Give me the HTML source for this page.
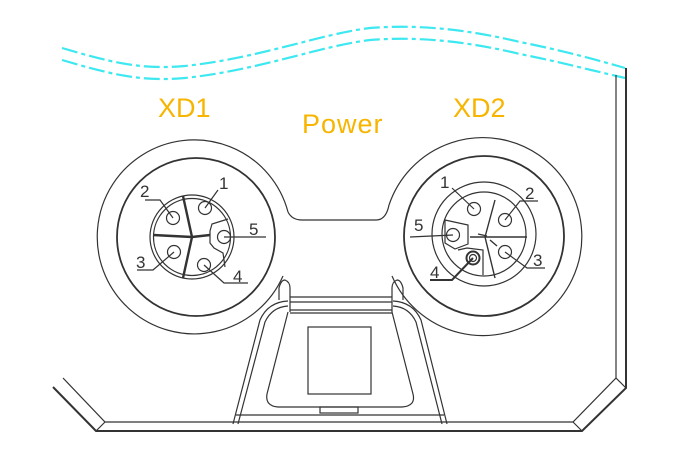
<!DOCTYPE html>
<html><head><meta charset="utf-8"><style>
html,body{margin:0;padding:0;background:#fff;}
svg{display:block;}
text{font-family:"Liberation Sans",sans-serif;}
</style></head><body>
<svg width="697" height="451" viewBox="0 0 697 451" xmlns="http://www.w3.org/2000/svg">
<g fill="none" stroke="#3ee8f0" stroke-width="2.2" stroke-dasharray="16 4 4 4">
<path d="M62,48 C110,62 140,70 185,66 C260,58 320,34 370,28 C420,24 470,30 520,42 C560,50 590,58 625,68"/>
<path d="M62,60 C110,74 140,82 185,78 C260,70 320,46 370,40 C420,36 470,42 520,54 C560,62 590,70 625,78"/>
</g>
<text x="158" y="117" font-size="27" fill="#f7b500">XD1</text>
<text x="302" y="133" font-size="27" fill="#f7b500" letter-spacing="1">Power</text>
<text x="453" y="117" font-size="27" fill="#f7b500">XD2</text>

<g fill="none" stroke="#333" stroke-width="1.2">
<!-- outer shape -->
<path d="M288,212 A97,97 0 1 0 283,276"/>
<path d="M288,212 Q292,220 302,220 L376,220 Q386,220 389,205"/>
<path d="M389,205 A99,99 0 1 1 392,276"/>
<circle cx="196" cy="237" r="79" stroke-width="1.8"/>
<circle cx="484" cy="236" r="80" stroke-width="1.8"/>
<!-- XD1 insert -->
<circle cx="192" cy="237" r="42"/>
<circle cx="192" cy="237" r="38.5"/>
<g stroke-width="2.4">
<line x1="192" y1="237" x2="183" y2="196"/>
<line x1="192" y1="237" x2="153" y2="235"/>
<line x1="192" y1="237" x2="183" y2="278"/>
<line x1="192" y1="237" x2="210" y2="235"/>
</g>
<path d="M228,219 L212,224 L210,231 L210,243 L214,248 L223,253 L225,267"/>
<circle cx="205" cy="208" r="6.5"/><circle cx="173" cy="218" r="6.5"/>
<circle cx="224" cy="237" r="6.5"/><circle cx="174" cy="252" r="6.5"/>
<circle cx="204" cy="265" r="6.5"/>
<!-- XD1 leaders -->
<path d="M218,190 L205,208"/><path d="M145,200 L160,200 L173,218"/>
<path d="M224,237 L266,237"/><path d="M137,270 L153,270 L174,252"/>
<path d="M204,265 L224,283 L248,283"/>
<!-- XD2 insert -->
<circle cx="484" cy="234" r="52"/>
<circle cx="484" cy="234" r="42"/>
<g stroke-width="1.4">
<path d="M485,237 L495,200 M485,237 L527,237 M485,237 L495,278 M485,237 L470,237"/>
<path d="M478,234 L487,236 M490,240 L497,246"/>
</g>
<path d="M445,220 L468,225 L468,244 L455,249 L445,243 Z"/>
<path d="M458,250 L467,248 L483,250 L483,275"/>
<circle cx="474" cy="209" r="6.5"/><circle cx="505" cy="220" r="6.5"/>
<circle cx="453" cy="235" r="6.5"/><circle cx="505" cy="252" r="6.5"/>
<circle cx="473" cy="258" r="6.5" stroke-width="2"/><circle cx="473" cy="258" r="3.5"/>
<path d="M452,188 L474,209"/><path d="M538,201 L520,201 L505,220"/>
<path d="M410,237 L453,235"/><path d="M430,280 L452,280 L473,258" stroke-width="2"/>
<path d="M545,268 L527,268 L505,252"/>
<!-- bracket -->
<path d="M279,300 L279,288 Q281,280 285,280 Q290,282 290,288 L290,312"/>
<path d="M403,300 L403,288 Q401,280 397,280 Q392,282 392,288 L392,312"/>
<path d="M290,297 L392,297 M290,302 L392,302 M290,310 L392,310 M290,313 L392,313"/>
<path d="M288,301 Q268,302 260,320 L233,424"/>
<path d="M288,306 Q272,307 265,322 L238,424"/>
<path d="M393,301 Q413,302 421,320 L447,424"/>
<path d="M393,306 Q409,307 416,322 L442,424"/>
<path d="M288,312 L267,394 Q265,406 278,407 L402,407 Q416,406 413,394 L392,312"/>
<rect x="308" y="327" width="63" height="67"/>
<rect x="320" y="407" width="38" height="6"/>
<path d="M236,415 L444,415"/>
<!-- frame -->
<path d="M616,75 L616,378 L573,422 L105,422 L63,378"/>
<path d="M626,68 L626,388 L582,431 L96,431 L53,387" stroke-width="2"/>
<path d="M616,378 L626,388 M573,422 L582,431 M105,422 L96,431"/>
</g>
<g font-size="17" fill="#333">
<text x="219" y="189">1</text>
<text x="140" y="197">2</text>
<text x="249" y="235">5</text>
<text x="136" y="268">3</text>
<text x="233" y="282">4</text>
<text x="440" y="188">1</text>
<text x="525" y="199">2</text>
<text x="414" y="231">5</text>
<text x="430" y="278">4</text>
<text x="533" y="266">3</text>
</g>
</svg>
</body></html>
